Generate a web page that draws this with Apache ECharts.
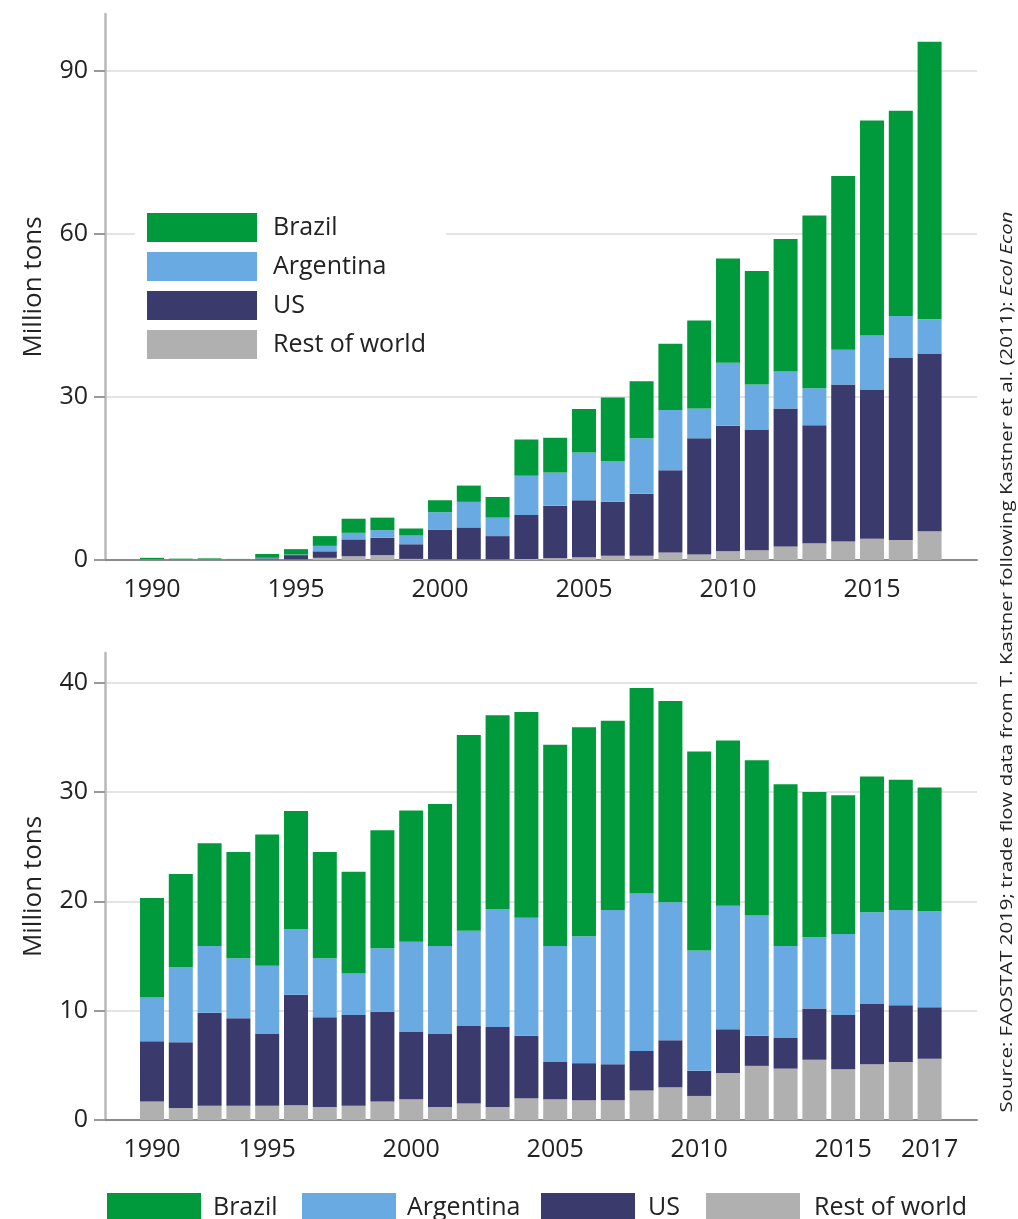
<!DOCTYPE html>
<html>
<head>
<meta charset="utf-8">
<script src="https://cdn.jsdelivr.net/npm/echarts@6/dist/echarts.min.js"></script>
<style>
  html, body { margin: 0; padding: 0; background: #ffffff; }
  #chart { width: 1018px; height: 1219px; }
</style>
</head>
<body>
<div id="chart"></div>
<script>
// ---------- data (million tons) ----------
const years = ['1990', '1991', '1992', '1993', '1994', '1995', '1996', '1997', '1998', '1999',
               '2000', '2001', '2002', '2003', '2004', '2005', '2006', '2007', '2008', '2009',
               '2010', '2011', '2012', '2013', '2014', '2015', '2016', '2017'];

// Top panel
const topRest      = [0.1, 0.1, 0.1, 0.1, 0.1, 0.1, 0.4, 0.7, 0.9, 0.2, 0.1, 0.1, 0.1, 0.2, 0.3, 0.5, 0.8, 0.8, 1.4, 1.0, 1.6, 1.8, 2.5, 3.1, 3.4, 3.9, 3.7, 5.3];
const topUS        = [0, 0, 0, 0, 0.2, 0.8, 1.2, 3.1, 3.2, 2.7, 5.5, 5.9, 4.3, 8.1, 9.7, 10.5, 9.9, 11.4, 15.1, 21.4, 23.1, 22.2, 25.4, 21.7, 28.9, 27.4, 33.5, 32.7];
const topArgentina = [0, 0, 0, 0, 0.1, 0.1, 1.0, 1.2, 1.4, 1.6, 3.2, 4.7, 3.4, 7.2, 6.1, 8.8, 7.5, 10.2, 11.1, 5.5, 11.6, 8.3, 6.8, 6.8, 6.4, 10.0, 7.7, 6.3];
const topBrazil    = [0.3, 0.15, 0.2, 0.1, 0.7, 1.0, 1.8, 2.6, 2.3, 1.3, 2.2, 3.0, 3.8, 6.7, 6.4, 8.0, 11.7, 10.5, 12.2, 16.2, 19.2, 20.9, 24.4, 31.8, 32.0, 39.6, 37.8, 51.1];

// Bottom panel
const bottomRest      = [1.7, 1.1, 1.3, 1.3, 1.3, 1.35, 1.2, 1.3, 1.7, 1.9, 1.2, 1.5, 1.2, 2.0, 1.9, 1.8, 1.8, 2.7, 3.0, 2.2, 4.3, 4.95, 4.7, 5.5, 4.65, 5.1, 5.3, 5.6];
const bottomUS        = [5.5, 6.0, 8.5, 8.0, 6.6, 10.1, 8.2, 8.3, 8.2, 6.2, 6.7, 7.1, 7.3, 5.7, 3.4, 3.4, 3.3, 3.6, 4.3, 2.3, 4.0, 2.75, 2.8, 4.7, 4.95, 5.5, 5.2, 4.7];
const bottomArgentina = [4.0, 6.9, 6.1, 5.5, 6.2, 6.0, 5.4, 3.8, 5.8, 8.2, 8.0, 8.7, 10.8, 10.8, 10.6, 11.6, 14.1, 14.4, 12.6, 11.0, 11.3, 11.0, 8.4, 6.5, 7.4, 8.4, 8.7, 8.8];
const bottomBrazil    = [9.1, 8.5, 9.4, 9.7, 12.0, 10.8, 9.7, 9.3, 10.8, 12.0, 13.0, 17.9, 17.7, 18.8, 18.4, 19.1, 17.3, 18.8, 18.4, 18.2, 15.1, 14.2, 14.8, 13.3, 12.7, 12.4, 11.9, 11.3];

// Tick labels (category index where each label sits, and its text)
const topTickIndex = [0, 5, 10, 15, 20, 25];
const topTickLabels = ['1990', '1995', '2000', '2005', '2010', '2015'];
const bottomTickIndex = [0, 4, 9, 14, 19, 24, 27];
const bottomTickLabels = ['1990', '1995', '2000', '2005', '2010', '2015', '2017'];
const topYTicks = [0, 30, 60, 90];
const bottomYTicks = [0, 10, 20, 30, 40];

const seriesNames = ['Brazil', 'Argentina', 'US', 'Rest of world'];
const sourceText = 'Source: FAOSTAT 2019; trade flow data from T. Kastner following Kastner et al. (2011): ';
const sourceItalic = 'Ecol Econ';

// ---------- styles ----------
const FONT = 'Open Sans';
const TXT = '#222222';
const colors = {
  'Brazil': '#009a3c',
  'Argentina': '#6aaae2',
  'US': '#3b3a6c',
  'Rest of world': '#b0b0b0'
};
const TOP_MAX = 100.5, BOTTOM_MAX = 42.7;

// Bar grids (category bands) and frame grids (axes, gridlines)
const grids = [
  { left: 137.6, width: 806.4, top: 14, height: 546 },   // 0: top bars
  { left: 137.6, width: 806.4, top: 653, height: 467 },  // 1: bottom bars
  { left: 105, right: 41, top: 14, height: 546 },        // 2: top frame
  { left: 105, right: 41, top: 653, height: 467 }        // 3: bottom frame
];

function barXAxis(gi, tickIndex, tickLabels) {
  return {
    gridIndex: gi, type: 'category', data: years, boundaryGap: true,
    axisLine: { show: false }, axisTick: { show: false }, splitLine: { show: false },
    axisLabel: {
      interval: function (i) { return tickIndex.indexOf(i) >= 0; },
      formatter: function (v, i) {
        const k = tickIndex.indexOf(i);
        return k >= 0 ? tickLabels[k] : '';
      },
      margin: 17, fontSize: 25, fontFamily: FONT, color: TXT
    }
  };
}
function barYAxis(gi, max) {
  return {
    gridIndex: gi, type: 'value', min: 0, max: max,
    axisLine: { show: false }, axisTick: { show: false },
    axisLabel: { show: false }, splitLine: { show: false }
  };
}
function frameXAxis(gi) {
  return {
    gridIndex: gi, type: 'value', min: 0, max: 1,
    axisLine: { show: true, onZero: false, lineStyle: { color: '#8a8a8a', width: 2 } },
    axisTick: { show: false }, axisLabel: { show: false }, splitLine: { show: false }
  };
}
function frameYAxis(gi, max, ticks) {
  return {
    gridIndex: gi, type: 'value', min: 0, max: max,
    name: 'Million tons', nameLocation: 'middle', nameGap: 58,
    nameTextStyle: { fontSize: 26, fontFamily: FONT, color: TXT },
    axisLine: { show: true, lineStyle: { color: '#b8b8b8', width: 2.5 } },
    axisTick: { show: true, length: 11, customValues: ticks, lineStyle: { color: '#999999', width: 2 } },
    axisLabel: { customValues: ticks, margin: 17, fontSize: 25, fontFamily: FONT, color: TXT },
    splitLine: { show: true, showMinLine: false, lineStyle: { color: '#e4e4e4', width: 2 } }
  };
}

function barSeries(name, gi, stack, arr) {
  return {
    type: 'bar', name: name, xAxisIndex: gi, yAxisIndex: gi, stack: stack,
    barWidth: 24, data: arr,
    itemStyle: { color: colors[name] },
    emphasis: { disabled: true }
  };
}

const legendText = { fontSize: 25, fontFamily: FONT, color: TXT };
function bottomLegend(left, name, pad) {
  return { left: left, top: 1193, padding: 0, itemWidth: 94, itemHeight: 29, icon: 'rect',
           selectedMode: false, data: [name],
           textStyle: Object.assign({ padding: [0, 0, 0, pad] }, legendText) };
}

const option = {
  animation: false,
  backgroundColor: '#ffffff',
  grid: grids,
  xAxis: [
    barXAxis(0, topTickIndex, topTickLabels),
    barXAxis(1, bottomTickIndex, bottomTickLabels),
    frameXAxis(2),
    frameXAxis(3)
  ],
  yAxis: [
    barYAxis(0, TOP_MAX),
    barYAxis(1, BOTTOM_MAX),
    frameYAxis(2, TOP_MAX, topYTicks),
    frameYAxis(3, BOTTOM_MAX, bottomYTicks)
  ],
  legend: [
    {
      orient: 'vertical', left: 135, top: 200, padding: [13, 20, 13, 12],
      backgroundColor: '#ffffff', itemWidth: 110, itemHeight: 29, itemGap: 10,
      icon: 'rect', selectedMode: false, data: seriesNames,
      textStyle: Object.assign({ padding: [0, 0, 0, 11] }, legendText)
    },
    bottomLegend(107, seriesNames[0], 7),
    bottomLegend(302, seriesNames[1], 6),
    bottomLegend(541, seriesNames[2], 8),
    bottomLegend(706, seriesNames[3], 9)
  ],
  graphic: [
    {
      type: 'text', x: 1007, y: 662, rotation: Math.PI / 2, scaleX: 1.2,
      style: {
        text: sourceText + '{i|' + sourceItalic + '}',
        fontSize: 17, fontFamily: FONT, fill: TXT,
        align: 'center', verticalAlign: 'middle',
        rich: { i: { fontSize: 17, fontFamily: FONT, fontStyle: 'italic', fill: TXT } }
      }
    }
  ],
  series: [
    barSeries('Rest of world', 0, 'top', topRest),
    barSeries('US', 0, 'top', topUS),
    barSeries('Argentina', 0, 'top', topArgentina),
    barSeries('Brazil', 0, 'top', topBrazil),
    barSeries('Rest of world', 1, 'bottom', bottomRest),
    barSeries('US', 1, 'bottom', bottomUS),
    barSeries('Argentina', 1, 'bottom', bottomArgentina),
    barSeries('Brazil', 1, 'bottom', bottomBrazil)
  ]
};

const chart = echarts.init(document.getElementById('chart'), null, { renderer: 'canvas' });
chart.setOption(option);
</script>
</body>
</html>
